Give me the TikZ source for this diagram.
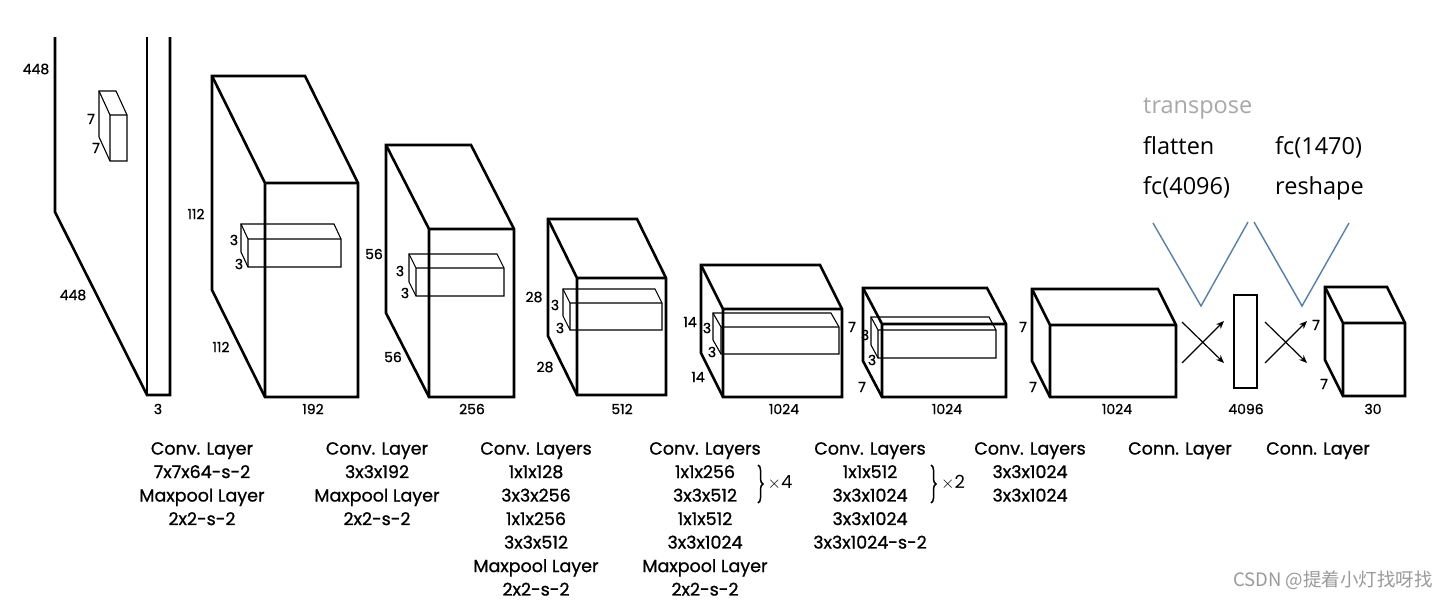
\documentclass[tikz,border=0pt]{standalone}
\usepackage{fontspec}
\setmainfont{Poppins}
\newfontfamily\capfont{Poppins}[FakeBold=0.9]
\newfontfamily\slidefont{Open Sans}
\newfontfamily\cjkfont{Noto Sans CJK SC}
\usetikzlibrary{decorations.pathreplacing,arrows.meta}
\definecolor{vblue}{HTML}{5580AE}
\definecolor{tgray}{HTML}{A8A8A8}
\definecolor{wgray}{HTML}{9A9A9A}
% cuboid: [style] bx by fx fy fr fb
\newcommand\cuboid[7][]{%
  \pgfmathsetmacro\cbdx{#4-#2}\pgfmathsetmacro\cbdy{#5-#3}%
  \draw[#1] (#2,#3) -- ({#6-\cbdx},#3) -- (#6,#5) -- (#6,#7) -- (#4,#7) -- (#2,{#7-\cbdy}) -- cycle;
  \draw[#1] (#2,#3) -- (#4,#5) -- (#6,#5) (#4,#5) -- (#4,#7);
}
\tikzset{
  big/.style={line width=2.6pt, line join=miter},
  small/.style={line width=1.1pt, line join=miter},
  dimlab/.style={font=\capfont\fontsize{14}{16}\selectfont, inner sep=0pt},
  caption/.style={font=\capfont\fontsize{17.5}{23.5}\selectfont, align=center, anchor=north, inner sep=0pt},
  slidetxt/.style={font=\slidefont\fontsize{23.5}{26}\selectfont, anchor=base west, inner sep=0pt},
  vline/.style={vblue, line width=1.4pt},
  cross/.style={line width=1.2pt, -{Stealth[length=8pt,width=6.5pt]}},
}
\begin{document}
\begin{tikzpicture}[x=1pt,y=-1pt]
\useasboundingbox[fill=white] (0,0) rectangle (1447,600);

% ---- input layer
\draw[big] (55,37) -- (55,212) -- (147,395) -- (170,395) -- (170,37);
\draw[big] (147,37) -- (147,395);
\cuboid[small]{99}{91}{110}{115}{127}{161}
\node[dimlab] (l448a) at (36,69) {448};
\node[dimlab] (l448b) at (73,295) {448};
\node[dimlab] (l3a) at (158,409) {3};
\node[dimlab] (l7a) at (91,119) {7};
\node[dimlab] (l7b) at (96,148) {7};

% ---- block 2
\cuboid[big]{212}{76}{265}{183}{358}{397}
\cuboid[small]{241}{224}{248}{239}{341}{267}
\node[dimlab] (l112a) at (196,214) {112};
\node[dimlab] (l112b) at (221,347) {112};
\node[dimlab] (l192) at (313,409) {192};
\node[dimlab] (l3b) at (234,240) {3};
\node[dimlab] (l3c) at (239,264) {3};

% ---- block 3
\cuboid[big]{386}{145}{429}{229}{514}{397}
\cuboid[small]{409}{254}{416}{268}{504}{296}
\node[dimlab] (l56a) at (374,254) {56};
\node[dimlab] (l56b) at (393,357) {56};
\node[dimlab] (l256) at (472,409) {256};
\node[dimlab] (l3d) at (400,271) {3};
\node[dimlab] (l3e) at (405,293) {3};

% ---- block 4
\cuboid[big]{548}{219}{577}{278}{666}{395}
\cuboid[small]{563}{289}{570}{303}{662}{330}
\node[dimlab] (l28a) at (534,297) {28};
\node[dimlab] (l28b) at (545,367) {28};
\node[dimlab] (l512) at (622,409) {512};
\node[dimlab] (l3f) at (555,305) {3};
\node[dimlab] (l3g) at (560,328) {3};

% ---- block 5
\cuboid[big]{701}{265}{723}{309}{842}{397}
\cuboid[small]{713}{313}{721}{327}{839}{354}
\node[dimlab] (l14a) at (690,322) {14};
\node[dimlab] (l14b) at (698,377) {14};
\node[dimlab] (l1024a) at (784,409) {1024};
\node[dimlab] (l3h) at (707,328) {3};
\node[dimlab] (l3i) at (712,352) {3};

% ---- block 6
\cuboid[big]{863}{288}{882}{324}{1006}{397}
\cuboid[small]{871}{317}{878}{330}{996}{358}
\node[dimlab] (l7c) at (852,327) {7};
\node[dimlab] (l7d) at (862,387) {7};
\node[dimlab] (l1024b) at (947,409) {1024};
\node[dimlab] (l3j) at (865,335) {3};
\node[dimlab] (l3k) at (872,360) {3};

% ---- block 7
\cuboid[big]{1032}{289}{1050}{325}{1176}{397}
\node[dimlab] (l7e) at (1023,327) {7};
\node[dimlab] (l7f) at (1033,387) {7};
\node[dimlab] (l1024c) at (1117,409) {1024};

% ---- fully connected
\node[draw, line width=2.4pt, minimum width=23pt, minimum height=93pt, inner sep=0pt] (fc) at (1245.5,341.5) {};
\node[dimlab] (l4096) at (1246,409) {4096};
\coordinate (a1s) at (1182,363); \coordinate (a1e) at (1224,321);
\coordinate (a2s) at (1182,322); \coordinate (a2e) at (1224,363);
\coordinate (a3s) at (1265,363); \coordinate (a3e) at (1307,321);
\coordinate (a4s) at (1265,322); \coordinate (a4e) at (1307,363);
\draw[cross] (a1s) -- (a1e);
\draw[cross] (a2s) -- (a2e);
\draw[cross] (a3s) -- (a3e);
\draw[cross] (a4s) -- (a4e);

% ---- output
\cuboid[big]{1325}{287}{1343}{323}{1405}{396}
\node[dimlab] (l7g) at (1316,325) {7};
\node[dimlab] (l7h) at (1324,384) {7};
\node[dimlab] (l30) at (1373,409) {30};

% ---- blue V lines
\coordinate (v1a) at (1153,223); \coordinate (v1b) at (1201,306); \coordinate (v1c) at (1248,222);
\coordinate (v2a) at (1254,222); \coordinate (v2b) at (1302,306); \coordinate (v2c) at (1349,223);
\draw[vline] (v1a) -- (v1b) -- (v1c);
\draw[vline] (v2a) -- (v2b) -- (v2c);

% ---- slide text
\node[slidetxt, text=tgray] (ttr) at (1143,113) {transpose};
\node[slidetxt] (tfl) at (1143,154) {flatten};
\node[slidetxt] (tfc1) at (1143,194) {fc(4096)};
\node[slidetxt] (tfc2) at (1275,154) {fc(1470)};
\node[slidetxt] (tre) at (1275,194) {reshape};

% ---- captions
\node[caption] (c1) at (202,442) {Conv. Layer\\7x7x64-s-2\\Maxpool Layer\\2x2-s-2};
\node[caption] (c2) at (377,442) {Conv. Layer\\3x3x192\\Maxpool Layer\\2x2-s-2};
\node[caption] (c3) at (536,442) {Conv. Layers\\1x1x128\\3x3x256\\1x1x256\\3x3x512\\Maxpool Layer\\2x2-s-2};
\node[caption] (c4) at (705,442) {Conv. Layers\\1x1x256\\3x3x512\\1x1x512\\3x3x1024\\Maxpool Layer\\2x2-s-2};
\node[caption] (c5) at (870,442) {Conv. Layers\\1x1x512\\3x3x1024\\3x3x1024\\3x3x1024-s-2};
\node[caption] (c6) at (1030,442) {Conv. Layers\\3x3x1024\\3x3x1024};
\node[caption] (c7) at (1180,442) {Conn. Layer};
\node[caption] (c8) at (1318,442) {Conn. Layer};

\draw[line width=1.5pt, decorate, decoration={brace, amplitude=5pt}] (758,465) -- (758,503);
\node[font=\fontsize{18}{20}\selectfont, inner sep=0pt] (x4) at (780,483) {$\times$4};
\draw[line width=1.5pt, decorate, decoration={brace, amplitude=5pt}] (931,465) -- (931,503);
\node[font=\fontsize{18}{20}\selectfont, inner sep=0pt] (x2) at (953,483) {$\times$2};

% ---- watermark
\node[font=\cjkfont\fontsize{18.5}{20}\selectfont, text=wgray, anchor=east, inner sep=0pt] (wm) at (1433,580) {CSDN @提着小灯找呀找};
\end{tikzpicture}
\end{document}
